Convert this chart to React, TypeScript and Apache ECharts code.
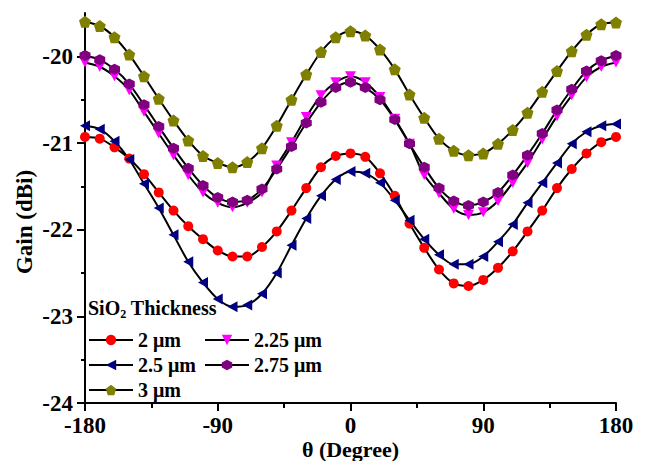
import React, { useEffect, useRef } from "react";
import * as echarts from "echarts";

const angles = [-180,-170,-160,-150,-140,-130,-120,-110,-100,-90,-80,-70,-60,-50,-40,-30,-20,-10,0,10,20,30,40,50,60,70,80,90,100,110,120,130,140,150,160,170,180];

const gain2 = [-20.93,-20.95,-21.05,-21.18,-21.36,-21.57,-21.78,-21.96,-22.11,-22.24,-22.31,-22.31,-22.20,-22.02,-21.78,-21.52,-21.28,-21.15,-21.12,-21.16,-21.35,-21.61,-21.93,-22.21,-22.46,-22.62,-22.65,-22.58,-22.44,-22.25,-22.02,-21.78,-21.52,-21.30,-21.12,-20.99,-20.93];
const gain225 = [-20.07,-20.12,-20.23,-20.39,-20.64,-20.89,-21.14,-21.37,-21.57,-21.69,-21.74,-21.69,-21.57,-21.26,-20.99,-20.70,-20.45,-20.30,-20.23,-20.30,-20.47,-20.72,-21.01,-21.37,-21.58,-21.76,-21.83,-21.80,-21.67,-21.46,-21.23,-20.96,-20.69,-20.45,-20.24,-20.12,-20.07];
const gain25 = [-20.80,-20.84,-20.98,-21.19,-21.47,-21.75,-22.06,-22.37,-22.61,-22.80,-22.89,-22.87,-22.74,-22.50,-22.18,-21.87,-21.61,-21.42,-21.33,-21.35,-21.46,-21.66,-21.89,-22.11,-22.29,-22.40,-22.40,-22.31,-22.14,-21.94,-21.69,-21.46,-21.23,-21.01,-20.87,-20.80,-20.78];
const gain275 = [-19.99,-20.04,-20.15,-20.32,-20.56,-20.81,-21.06,-21.29,-21.49,-21.63,-21.68,-21.66,-21.53,-21.30,-21.04,-20.77,-20.53,-20.36,-20.30,-20.36,-20.50,-20.73,-21.01,-21.28,-21.52,-21.67,-21.72,-21.68,-21.57,-21.37,-21.14,-20.89,-20.62,-20.38,-20.17,-20.05,-19.99];
const gain3 = [-19.60,-19.65,-19.78,-19.98,-20.23,-20.49,-20.74,-20.97,-21.15,-21.23,-21.28,-21.22,-21.06,-20.80,-20.50,-20.21,-19.95,-19.78,-19.71,-19.76,-19.92,-20.15,-20.44,-20.71,-20.95,-21.09,-21.14,-21.12,-21.01,-20.85,-20.65,-20.41,-20.17,-19.94,-19.75,-19.63,-19.61];

const seriesNames = ["2 μm", "2.25 μm", "2.5 μm", "2.75 μm", "3 μm"];
const yMajorTicks = [-24, -23, -22, -21, -20];

const FONT = "'Liberation Serif', 'Times New Roman', serif";

export default function App() {
  const ref = useRef<HTMLDivElement>(null);
  useEffect(() => {
    if (!ref.current) return;
    const chart = echarts.init(ref.current, undefined, { renderer: "svg" });
    const mk = (name: string, vals: number[], color: string, symbol: string, size: any) => ({
      name,
      type: "line",
      smooth: 0.3,
      data: angles.map((a, i) => [a, vals[i]]),
      symbol,
      symbolSize: size,
      showSymbol: true,
      lineStyle: { color: "#000", width: 2 },
      itemStyle: { color, borderWidth: 0 },
    });
    const labelStyle = { fontFamily: FONT, fontWeight: "bold", fontSize: 23, color: "#000" };
    const legendText = { fontFamily: FONT, fontWeight: "bold", fontSize: 20, color: "#000" };
    const legendBase = {
      orient: "vertical", top: 330, itemWidth: 44, itemHeight: 13, itemGap: 5, padding: 0,
      textStyle: legendText, selectedMode: false,
    };
    chart.setOption({
      animation: false,
      backgroundColor: "#fff",
      grid: { left: 85, right: 29, top: 13, bottom: 58, containLabel: false, outerBoundsMode: "none" },
      xAxis: {
        type: "value", min: -180, max: 180, interval: 90,
        axisLine: { onZero: false, lineStyle: { color: "#000", width: 2 } },
        axisTick: { length: 8, lineStyle: { color: "#000", width: 2 } },
        minorTick: { show: true, splitNumber: 2, length: 5, lineStyle: { color: "#000", width: 2 } },
        axisLabel: { ...labelStyle, margin: 11, lineHeight: 22 },
        splitLine: { show: false },
        name: "θ (Degree)", nameLocation: "middle", nameGap: 35, nameMoveOverlap: false,
        nameTextStyle: { ...labelStyle, fontSize: 22, lineHeight: 22 },
      },
      yAxis: {
        type: "value", min: -24, max: -19.5, interval: 1,
        axisLine: { show: true, onZero: false, lineStyle: { color: "#000", width: 2 } },
        axisTick: { show: true, length: 8, customValues: yMajorTicks, lineStyle: { color: "#000", width: 2 } },
        minorTick: { show: true, splitNumber: 2, length: 4, lineStyle: { color: "#000", width: 2 } },
        axisLabel: {
          ...labelStyle, margin: 12, customValues: yMajorTicks,
          formatter: (v: number) => (Number.isInteger(v) ? String(v) : ""),
        },
        splitLine: { show: false },
      },
      legend: [
        { ...legendBase, left: 88, data: [seriesNames[0], seriesNames[2], seriesNames[4]] },
        { ...legendBase, left: 204, data: [seriesNames[1], seriesNames[3]] },
      ],
      graphic: [
        {
          type: "text", x: 24, y: 222, rotation: Math.PI / 2,
          style: { text: "Gain (dBi)", font: `bold 23px ${FONT}`, fill: "#000", align: "center", verticalAlign: "middle" },
        },
        {
          type: "text", x: 88, y: 308,
          style: {
            text: "{a|SiO}{b|2}{a| Thickness}",
            verticalAlign: "middle",
            rich: {
              a: { fontFamily: FONT, fontWeight: "bold", fontSize: 20, fill: "#000", lineHeight: 24, verticalAlign: "middle" },
              b: { fontFamily: FONT, fontWeight: "bold", fontSize: 12, fill: "#000", lineHeight: 24, verticalAlign: "bottom" },
            },
          },
        },
      ],
      series: [
        mk(seriesNames[0], gain2, "#FF0000", "circle", 10),
        mk(seriesNames[1], gain225, "#FF00FF", "path://M0,0 L10,0 L5,9 Z", [11, 10]),
        mk(seriesNames[2], gain25, "#000080", "path://M0,5 L9,0 L9,10 Z", [10, 11]),
        mk(seriesNames[3], gain275, "#800080", "path://M5,0 L9.33,2.5 L9.33,7.5 L5,10 L0.67,7.5 L0.67,2.5 Z", 11),
        mk(seriesNames[4], gain3, "#808000", "path://M5,0 L10,3.8 L8.1,10 L1.9,10 L0,3.8 Z", 12),
      ],
    });
    return () => chart.dispose();
  }, []);
  return <div ref={ref} style={{ width: 645, height: 461, position: "absolute", left: 0, top: 0 }} />;
}
